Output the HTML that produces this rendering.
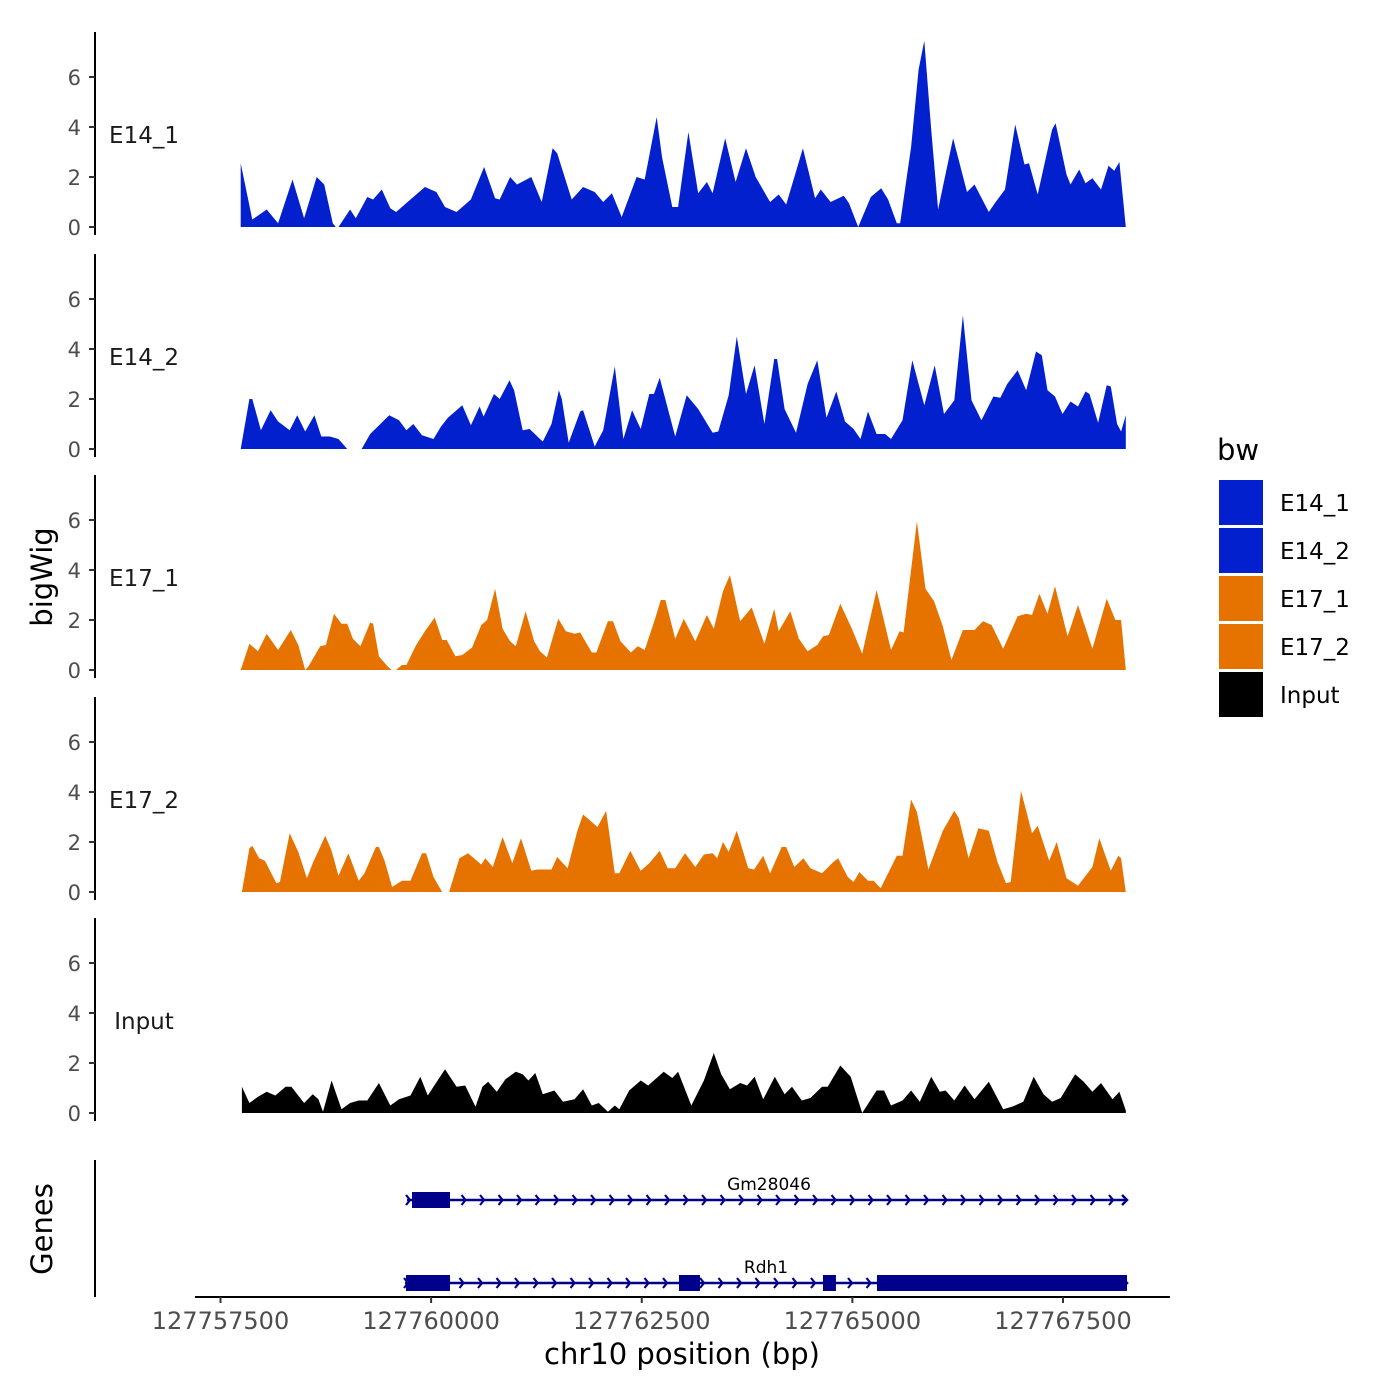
<!DOCTYPE html>
<html><head><meta charset="utf-8"><style>
html,body{margin:0;padding:0;background:#fff;}
svg{display:block;font-family:"DejaVu Sans","Liberation Sans",sans-serif;}
</style></head><body>
<svg id="chart" width="1400" height="1400" viewBox="0 0 1400 1400"></svg>
<script>
// ---- data (positions are bp offsets from region start 127757672) ----
const regionStart = 127757672;
const trackNames = ["E14_1","E14_2","E17_1","E17_2","Input"];
const e14_1_pos = [68,205,376,512,683,820,970,1059,1161,1195,1229,1366,1434,1571,1639,1742,1844,1912,2049,2254,2391,2493,2630,2800,2957,3087,3142,3265,3347,3517,3640,3770,3825,3996,4132,4269,4371,4474,4590,4767,4863,5006,5068,5191,5259,5382,5498,5601,5669,5819,5942,6065,6181,6352,6454,6543,6741,6885,6953,7069,7226,7288,7397,7547,7670,7752,7855,7895,8025,8114,8182,8264,8346,8524,8688,8777,8947,9029,9139,9261,9371,9425,9528,9699,9740,9869,9917,10020,10095,10177,10279,10368,10436,10498,10573];
const e14_1_val = [2.55,0.3,0.7,0.15,1.9,0.35,2.0,1.7,0.15,0,0,0.7,0.35,1.2,1.1,1.5,0.75,0.6,1.0,1.6,1.4,0.8,0.6,1.1,2.4,1.15,1.1,2.0,1.7,2.0,1.0,3.15,2.95,1.1,1.6,1.4,1.0,1.35,0.4,2.0,1.9,4.4,2.8,0.8,0.8,3.8,1.35,1.8,1.35,3.55,1.8,3.15,2.0,1.0,1.3,0.9,3.15,1.15,1.5,1.0,1.25,0.95,0,1.2,1.55,1.1,0.15,0.15,3.2,6.3,7.45,3.9,0.7,3.55,1.4,1.7,0.6,1.0,1.5,4.1,2.5,2.55,1.3,3.9,4.15,2.1,1.7,2.3,1.75,1.95,1.5,2.45,2.25,2.6,0];
const e14_2_pos = [68,171,205,307,423,512,649,738,833,943,1025,1127,1229,1332,1503,1605,1830,1947,2035,2117,2220,2356,2445,2527,2698,2800,2903,2951,3074,3142,3258,3313,3415,3497,3620,3654,3757,3845,3879,3961,4098,4132,4269,4371,4508,4610,4713,4815,4918,4972,5041,5225,5362,5498,5669,5737,5860,5956,6065,6167,6284,6400,6434,6523,6659,6796,6912,7021,7137,7240,7342,7424,7513,7615,7718,7786,7923,8039,8182,8305,8415,8538,8640,8742,8859,9002,9084,9166,9289,9391,9507,9576,9644,9733,9822,9917,10006,10095,10143,10245,10347,10395,10470,10518,10573];
const e14_2_val = [0,2.0,2.0,0.75,1.55,1.1,0.75,1.35,0.7,1.35,0.5,0.5,0.4,0,0,0.6,1.35,1.15,0.75,1.0,0.55,0.4,0.9,1.25,1.75,0.95,1.7,1.3,2.2,2.0,2.75,2.35,0.75,0.8,0.4,0.3,1.0,2.35,2.0,0.25,1.5,1.55,0.1,0.75,3.3,0.4,1.55,0.8,2.2,2.2,2.85,0.5,2.15,1.6,0.65,0.7,2.15,4.5,2.2,3.35,1.0,3.6,3.6,1.6,0.65,2.6,3.55,1.25,2.3,1.1,0.8,0.4,1.5,0.6,0.6,0.4,1.15,3.55,1.75,3.35,1.4,1.95,5.35,1.95,1.15,2.1,2.05,2.6,3.15,2.35,3.9,3.75,2.35,2.1,1.4,1.9,1.7,2.3,2.2,1.05,2.55,2.5,1.0,0.7,1.35];
const e17_1_pos = [68,171,273,376,512,663,751,833,874,1011,1079,1175,1264,1332,1400,1489,1605,1639,1708,1810,1858,1912,1981,2035,2151,2254,2370,2459,2513,2616,2698,2814,2923,2992,3087,3176,3265,3333,3449,3552,3620,3702,3838,3927,4030,4098,4235,4289,4426,4487,4576,4699,4781,4863,4986,5054,5109,5225,5327,5464,5601,5683,5792,5874,5997,6133,6284,6400,6454,6591,6693,6796,6912,6980,7049,7185,7322,7445,7615,7786,7889,7936,8094,8196,8298,8401,8503,8640,8777,8879,8981,9118,9289,9391,9460,9548,9644,9733,9883,10006,10177,10347,10450,10518,10573];
const e17_1_val = [0,1.05,0.75,1.45,0.8,1.6,1.0,0,0.15,0.95,1.0,2.25,1.85,1.85,1.25,0.95,1.9,1.85,0.55,0.15,0,0,0.2,0.2,1.0,1.55,2.1,1.2,1.2,0.55,0.6,0.9,1.8,2.0,3.25,1.65,1.15,0.95,2.35,1.15,0.75,0.5,2.05,1.55,1.45,1.5,0.7,0.7,1.95,1.95,1.15,0.7,0.95,0.8,2.05,2.8,2.8,1.25,2.05,1.15,2.2,1.65,3.15,3.8,1.95,2.5,1.05,2.45,1.55,2.35,1.25,0.75,1.0,1.35,1.4,2.65,1.65,0.65,3.2,0.8,1.55,1.5,5.95,3.25,2.75,1.75,0.4,1.6,1.6,1.95,1.8,0.85,2.15,2.25,2.2,3.05,2.25,3.35,1.35,2.6,0.85,2.85,2.0,2.0,0];
const e17_2_pos = [82,171,205,287,355,492,533,649,751,854,922,1072,1147,1229,1346,1468,1537,1673,1708,1776,1865,1981,2083,2220,2268,2356,2459,2541,2664,2766,2923,2971,3060,3176,3292,3395,3517,3586,3757,3825,3948,4064,4132,4235,4303,4405,4508,4562,4692,4815,4918,5041,5136,5225,5341,5464,5566,5669,5724,5792,5860,5956,6092,6161,6270,6352,6489,6543,6639,6748,6830,6967,7103,7158,7274,7342,7411,7513,7581,7663,7855,7923,8025,8094,8230,8401,8538,8592,8708,8824,8947,9050,9152,9207,9330,9460,9528,9664,9753,9869,10006,10177,10259,10395,10484,10518,10573];
const e17_2_val = [0,1.75,1.85,1.35,1.25,0.35,0.4,2.35,1.6,0.55,1.15,2.25,1.65,0.65,1.55,0.45,0.75,1.8,1.8,1.25,0.2,0.45,0.45,1.55,1.55,0.6,0,0,1.35,1.55,1.1,1.35,1.0,2.2,1.15,2.15,0.85,0.9,0.9,1.4,0.95,2.45,3.1,2.8,2.6,3.25,0.75,0.75,1.65,0.85,1.15,1.65,0.95,0.95,1.55,1.0,1.5,1.55,1.35,2.0,1.6,2.45,0.95,0.9,1.45,0.75,1.8,1.8,1.0,1.35,0.95,0.75,1.2,1.35,0.6,0.4,0.8,0.45,0.45,0.15,1.45,1.45,3.7,3.2,0.9,2.45,3.25,2.95,1.35,2.55,2.45,1.2,0.35,0.4,4.05,2.35,2.65,1.25,2.0,0.55,0.25,1.0,2.15,0.85,1.45,1.35,0];
const input_pos = [82,171,273,376,478,601,669,820,922,990,1045,1147,1264,1366,1468,1571,1708,1844,1947,2083,2199,2288,2356,2493,2630,2732,2855,2937,3005,3108,3210,3333,3415,3483,3565,3654,3791,3893,4030,4132,4235,4317,4426,4508,4562,4679,4815,4904,5088,5191,5259,5416,5566,5683,5771,5874,5997,6079,6167,6270,6407,6523,6611,6728,6830,6967,7035,7185,7308,7445,7615,7704,7786,7923,8025,8128,8264,8367,8435,8538,8660,8777,8947,9118,9221,9357,9480,9596,9699,9801,9972,10074,10177,10279,10416,10498,10573];
const input_val = [1.05,0.4,0.65,0.85,0.7,1.05,1.05,0.4,0.75,0.55,0.05,1.3,0.15,0.4,0.5,0.5,1.2,0.3,0.55,0.7,1.45,0.7,1.05,1.75,1.05,1.1,0.25,1.05,1.25,0.85,1.35,1.65,1.55,1.3,1.6,0.75,0.9,0.45,0.55,0.95,0.3,0.4,0.05,0.3,0.15,0.9,1.3,1.1,1.65,1.4,1.65,0.3,1.3,2.4,1.55,0.95,1.2,1.1,1.45,0.55,1.45,0.75,1.05,0.5,0.6,1.05,1.05,1.9,1.45,0,0.9,0.9,0.3,0.5,0.9,0.45,1.45,0.85,0.9,0.5,1.1,0.55,1.25,0.15,0.25,0.45,1.45,0.75,0.45,0.6,1.55,1.25,0.85,1.2,0.55,0.85,0.1];
const trackColors = ["#0320cf","#0320cf","#e67300","#e67300","#000000"];
const yTicks = [0,2,4,6];
const xTicks = [127757500,127760000,127762500,127765000,127767500];
const xTickLabels = ["127757500","127760000","127762500","127765000","127767500"];
const legendLabels = ["E14_1","E14_2","E17_1","E17_2","Input"];
const geneNames = ["Gm28046","Rdh1"];
const geneStarts = [127759714,127759690];
const geneEnds = [127768260,127768260];
const geneExonStarts = [[127759773],[127759702,127762942,127764651,127765292]];
const geneExonEnds = [[127760224],[127760224,127763191,127764805,127768260]];

const NS="http://www.w3.org/2000/svg";
const svg=document.getElementById('chart');
function mk(tag,attrs,parent){const e=document.createElementNS(NS,tag);for(const k in attrs)e.setAttribute(k,attrs[k]);(parent||svg).appendChild(e);return e;}
const xScale = bp => 220.5 + (bp-127757500)*0.08425;
const baselines=[227,449,670,892,1113];
const yScale=(v,i)=>baselines[i]-v*25;
const posArr=[e14_1_pos,e14_2_pos,e17_1_pos,e17_2_pos,input_pos];
const valArr=[e14_1_val,e14_2_val,e17_1_val,e17_2_val,input_val];

for(let i=0;i<5;i++){
  const g=mk('g',{});
  
  
  const P=posArr[i],V=valArr[i];
  let d='M'+xScale(regionStart+P[0]).toFixed(1)+','+baselines[i];
  for(let j=0;j<P.length;j++)d+=' L'+xScale(regionStart+P[j]).toFixed(1)+','+yScale(V[j],i).toFixed(1);
  d+=' L'+xScale(regionStart+P[P.length-1]).toFixed(1)+','+baselines[i]+' Z';
  const a=mk('path',{d:d,fill:trackColors[i]},g);
  
  
  const ax=mk('line',{x1:95,x2:95,y1:baselines[i]-195,y2:baselines[i]+8,stroke:'#000','stroke-width':2},g);
  
  
  yTicks.forEach(t=>{
    const y=yScale(t,i);
    mk('line',{x1:89,x2:95,y1:y,y2:y,stroke:'#333','stroke-width':2},g);
    const tl=mk('text',{x:81,y:y+8,'text-anchor':'end','font-size':21,fill:'#4d4d4d'},g);
    tl.textContent=t;
    
    
  });
  const lab=mk('text',{x:144,y:baselines[i]-84,'text-anchor':'middle','font-size':23,fill:'#1a1a1a'},g);
  lab.textContent=trackNames[i];
  
  
}
const yt=mk('text',{x:0,y:0,transform:'translate(52,577) rotate(-90)','text-anchor':'middle','font-size':29,fill:'#000'});
yt.textContent='bigWig';


const gt=mk('text',{x:0,y:0,transform:'translate(52,1229) rotate(-90)','text-anchor':'middle','font-size':29,fill:'#000'});
gt.textContent='Genes';


const gax=mk('line',{x1:95,x2:95,y1:1160,y2:1297,stroke:'#000','stroke-width':2});


const geneY=[1200,1283];
for(let k=0;k<geneNames.length;k++){
  const g=mk('g',{});
  
  
  const y=geneY[k],x1=xScale(geneStarts[k]),x2=xScale(geneEnds[k]);
  mk('line',{x1:x1,x2:x2,y1:y,y2:y,stroke:'#00008b','stroke-width':2.5},g);
  for(let x=x1+2;x<=x2;x+=18.5){
    mk('polyline',{points:(x-3)+','+(y-5)+' '+(x+1)+','+y+' '+(x-3)+','+(y+5),fill:'none',stroke:'#00008b','stroke-width':2.2},g);
  }
  mk('polyline',{points:(x2-5)+','+(y-5)+' '+(x2)+','+y+' '+(x2-5)+','+(y+5),fill:'none',stroke:'#00008b','stroke-width':2.5},g);
  geneExonStarts[k].forEach((s,j)=>{
    const ex=mk('rect',{x:xScale(s),y:y-8,width:xScale(geneExonEnds[k][j])-xScale(s),height:16,fill:'#00008b'},g);
    
    
  });
  const t=mk('text',{x:(k==0?769:766),y:y-10,'text-anchor':'middle','font-size':17,fill:'#000'},g);
  t.textContent=geneNames[k];
  
  
}
const xa=mk('line',{x1:195,x2:1170,y1:1297,y2:1297,stroke:'#000','stroke-width':2});


xTicks.forEach((t,i)=>{
  const x=xScale(t);
  mk('line',{x1:x,x2:x,y1:1297,y2:1303,stroke:'#333','stroke-width':2});
  const tl=mk('text',{x:x,y:1329,'text-anchor':'middle','font-size':24,fill:'#4d4d4d'});
  tl.textContent=xTickLabels[i];
  
  
});
const xt=mk('text',{x:682,y:1364,'text-anchor':'middle','font-size':29,fill:'#000'});
xt.textContent='chr10 position (bp)';


const lg=mk('g',{});


const lt=mk('text',{x:1217,y:460,'font-size':29,fill:'#000'},lg);
lt.textContent='bw';


legendLabels.forEach((l,i)=>{
  const y=480+i*48;
  const r=mk('rect',{x:1219,y:y,width:44,height:45,fill:trackColors[i]},lg);
  
  
  const t=mk('text',{x:1280,y:y+31,'font-size':23,fill:'#000'},lg);
  t.textContent=l;
  
  
});
</script>
</body></html>
